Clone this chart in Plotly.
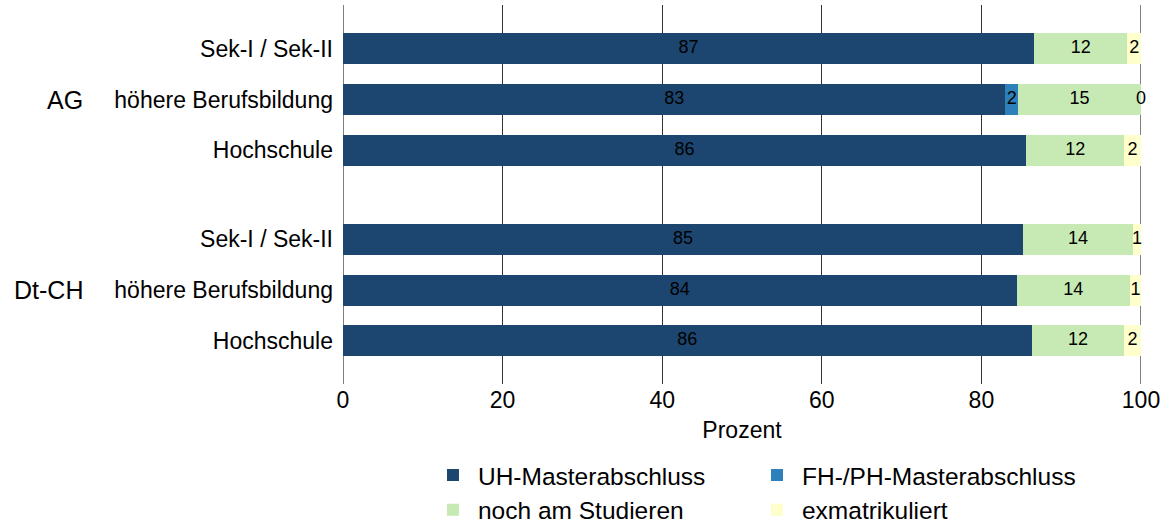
import plotly.graph_objects as go

groups = ["AG", "Dt-CH"]
categories = ["Sek-I / Sek-II", "höhere Berufsbildung", "Hochschule"]
series_names = ["UH-Masterabschluss", "FH-/PH-Masterabschluss", "noch am Studieren", "exmatrikuliert"]
colors = ["#1c4670", "#2e80ba", "#c7e9b4", "#ffffcc"]

# rows: AG (Sek, höhere BB, Hochschule), Dt-CH (Sek, höhere BB, Hochschule)
uh_master = [86.6, 83.0, 85.6, 85.2, 84.4, 86.3]
fh_master = [None, 1.6, None, None, None, None]
studying = [11.7, 15.4, 12.3, 13.8, 14.2, 11.6]
exmat = [1.7, 0.0, 2.1, 1.0, 1.4, 2.1]

positions = [0, 1, 2, 3.75, 4.75, 5.75]
tick_labels = categories + categories

series_values = [uh_master, fh_master, studying, exmat]
FONT = "Liberation Sans, Arial, sans-serif"

fig = go.Figure()
base = [0.0] * len(positions)
label_x, label_y, label_t = [], [], []
for name, vals, col in zip(series_names, series_values, colors):
    xs = [v if v is not None else 0 for v in vals]
    fig.add_trace(go.Bar(
        y=positions, x=xs, name=name, orientation="h",
        marker=dict(color=col, line=dict(width=0)),
        width=0.61, hoverinfo="x+name",
    ))
    for i, v in enumerate(vals):
        if v is not None:
            label_x.append(base[i] + v / 2)
            label_y.append(positions[i])
            label_t.append(f"{round(v)}")
        base[i] += xs[i]

fig.add_trace(go.Scatter(
    x=label_x, y=label_y, text=label_t, mode="text",
    textposition="middle center",
    textfont=dict(color="black", size=18, family=FONT),
    showlegend=False, hoverinfo="skip", cliponaxis=False,
))

fig.update_layout(
    barmode="stack",
    width=1169, height=524,
    margin=dict(l=343, r=28, t=5, b=140, autoexpand=False),
    plot_bgcolor="white", paper_bgcolor="white",
    font=dict(family=FONT, size=23, color="black"),
    showlegend=True,
    legend=dict(
        orientation="h", x=0.1065, xanchor="left", y=-0.181, yanchor="top",
        entrywidth=269, entrywidthmode="pixels",
        font=dict(size=24.5), itemwidth=40, traceorder="normal",
        tracegroupgap=0,
    ),
)
fig.update_xaxes(
    range=[0, 100], tickvals=[0, 20, 40, 60, 80, 100],
    showgrid=True, gridcolor="#333", gridwidth=1,
    zeroline=False, showline=False, ticks="",
    title=dict(text="Prozent", standoff=9, font=dict(size=23)),
    tickfont=dict(size=23),
)
fig.update_yaxes(
    tickvals=positions, ticktext=tick_labels,
    range=[6.6, -0.86], showgrid=False, zeroline=False, ticks="",
    ticklabelstandoff=9, tickfont=dict(size=23),
)
fig.add_vline(x=0, line_color="black", line_width=1, layer="below")
fig.add_vline(x=100, line_color="black", line_width=1, layer="below")

for g, p in zip(groups, [1, 4.75]):
    fig.add_annotation(
        x=0, xref="paper", y=p, yref="y", text=g, showarrow=False,
        xanchor="right", xshift=-258, font=dict(size=25),
    )

fig.write_html("out.html", config={"displayModeBar": False},
               post_script="document.body.style.margin='0px';")
